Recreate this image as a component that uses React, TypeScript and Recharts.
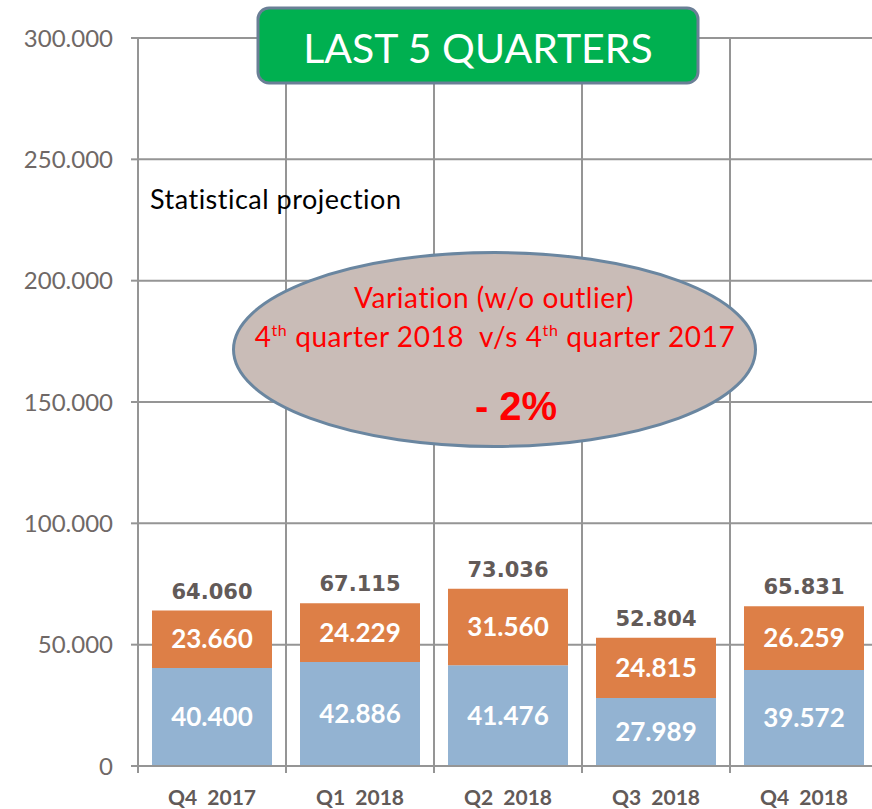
import { BarChart, Bar, XAxis, YAxis, CartesianGrid, LabelList } from "recharts";

const categories = ["Q4  2017", "Q1  2018", "Q2  2018", "Q3  2018", "Q4  2018"];
const baseValues = [40400, 42886, 41476, 27989, 39572];
const extraValues = [23660, 24229, 31560, 24815, 26259];
const totals = [64060, 67115, 73036, 52804, 65831];
const yTicks = [0, 50000, 100000, 150000, 200000, 250000, 300000];

const BLUE = "#93b3d2";
const ORANGE = "#dd7f47";
const GRID = "#959595";
const LABEL_GRAY = "#625a58";
const TICK_GRAY = "#6f6866";

const CHART_W = 880;
const CHART_H = 809;
const AXIS_W = 138;
const PLOT_W = 740;

const data = categories.map((name, i) => ({
  name,
  base: baseValues[i],
  extra: extraValues[i],
  total: totals[i],
}));

const fmt = (n: number) =>
  String(n).replace(/\B(?=(\d{3})+(?!\d))/g, ".");

const XTick = (props: any) => {
  const { x, y, payload } = props;
  const band = PLOT_W / categories.length;
  return (
    <g>
      <line x1={x - band / 2} x2={x - band / 2} y1={y - 8} y2={y - 1} stroke={GRID} strokeWidth={2} />
      <text
        x={x}
        y={y + 31}
        textAnchor="middle"
        fill={LABEL_GRAY}
        fontFamily="Lato"
        fontWeight={700}
        fontSize={21}
        style={{ whiteSpace: "pre" }}
      >
        {payload.value}
      </text>
    </g>
  );
};

const Annotations = () => (
  <svg
    width={872}
    height={809}
    style={{ position: "absolute", left: 0, top: 0, pointerEvents: "none" }}
  >
    <rect x={258} y={8} width={440} height={75} rx={11} fill="#00b050" stroke="#6a7f96" strokeWidth={3} />
    <text x={478} y={63} textAnchor="middle" fill="#ffffff" fontFamily="Lato" fontSize={41}>
      LAST 5 QUARTERS
    </text>
    <text x={150} y={209} fill="#000000" fontFamily="Lato" fontSize={27} letterSpacing={0.5}>
      Statistical projection
    </text>
    <ellipse cx={494.5} cy={349.5} rx={261} ry={97} fill="#c9bcb7" stroke="#6a86a0" strokeWidth={3} />
    <g fill="#ff0000" fontFamily="Lato" fontSize={28} textAnchor="middle" letterSpacing={0.6}>
      <text x={494} y={308}>Variation (w/o outlier)</text>
      <text x={495} y={347} style={{ whiteSpace: "pre" }}>
        4<tspan fontSize={16} dy={-11}>th</tspan>
        <tspan dy={11}> quarter 2018  v/s 4</tspan>
        <tspan fontSize={16} dy={-11}>th</tspan>
        <tspan dy={11}> quarter 2017</tspan>
      </text>
      <text x={516} y={420} fontFamily="Liberation Sans" fontWeight={700} fontSize={40} letterSpacing={0}>
        - 2%
      </text>
    </g>
  </svg>
);

export default function App() {
  return (
    <div
      style={{
        position: "absolute",
        left: 0,
        top: 0,
        width: 872,
        height: 809,
        overflow: "hidden",
        background: "#ffffff",
      }}
    >
      <BarChart
        width={CHART_W}
        height={CHART_H}
        data={data}
        margin={{ top: 38, right: CHART_W - AXIS_W - PLOT_W, bottom: 3, left: 0 }}
      >
        <CartesianGrid
          stroke={GRID}
          strokeWidth={2}
          verticalCoordinatesGenerator={({ offset }: any) =>
            categories.map((_, i) => offset.left + (i * offset.width) / categories.length)
          }
        />
        <XAxis
          dataKey="name"
          height={40}
          axisLine={{ stroke: GRID, strokeWidth: 2 }}
          tickLine={false}
          tick={<XTick />}
          interval={0}
        />
        <YAxis
          width={AXIS_W}
          domain={[0, 300000]}
          ticks={yTicks}
          interval={0}
          tickFormatter={fmt}
          axisLine={{ stroke: GRID, strokeWidth: 2 }}
          tickLine={{ stroke: GRID, strokeWidth: 2 }}
          tickSize={7}
          tickMargin={18}
          tick={{ fill: TICK_GRAY, fontFamily: "Lato", fontSize: 24 }}
        />
        <Bar dataKey="base" stackId="a" fill={BLUE} barSize={120} isAnimationActive={false}>
          <LabelList
            dataKey="base"
            position="center"
            formatter={(v: any) => fmt(Number(v))}
            fill="#ffffff"
            fontFamily="Lato"
            fontWeight={700}
            fontSize={26}
          />
        </Bar>
        <Bar dataKey="extra" stackId="a" fill={ORANGE} barSize={120} isAnimationActive={false}>
          <LabelList
            dataKey="extra"
            position="center"
            formatter={(v: any) => fmt(Number(v))}
            fill="#ffffff"
            fontFamily="Lato"
            fontWeight={700}
            fontSize={26}
          />
          <LabelList
            dataKey="total"
            position="top"
            offset={12}
            formatter={(v: any) => fmt(Number(v))}
            fill={LABEL_GRAY}
            fontFamily="DejaVu Sans"
            fontWeight={700}
            fontSize={21}
          />
        </Bar>
      </BarChart>
      <Annotations />
    </div>
  );
}
